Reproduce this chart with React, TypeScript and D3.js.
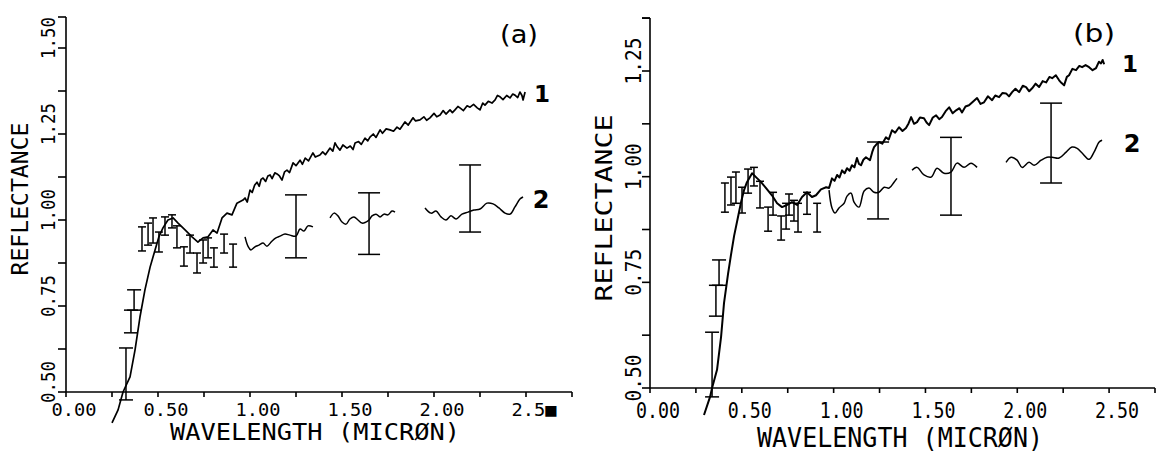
import React from "react";
import * as d3 from "d3";

// ---------- DATA ----------
type P = [number, number];
type Bar = [number, number, number]; // wavelength, top reflectance, bottom reflectance

const xTickValues = [0, 0.5, 1, 1.5, 2, 2.5];
const xMinorTicks = [0.25, 0.75, 1.25, 1.75, 2.25, 2.75];
const xTickLabelsA = ["0.00", "0.50", "1.00", "1.50", "2.00", "2.5■"];
const xTickLabelsB = ["0.00", "0.50", "1.00", "1.50", "2.00", "2.50"];
const yTickValuesA = [0.5, 0.75, 1.0, 1.25, 1.5];
const yTickLabelsA = ["0.50", "0.75", "1.00", "1.25", "1.50"];
const yMinorA = [0.625, 0.875, 1.125, 1.375];
const yTickValuesB = [0.5, 0.75, 1.0, 1.25];
const yTickLabelsB = ["0.50", "0.75", "1.00", "1.25"];
const yMinorB = [0.625, 0.875, 1.125, 1.375];

const xTitle = "WAVELENGTH (MICRØN)";
const yTitle = "REFLECTANCE";
const panelLabels = ["(a)", "(b)"];
const seriesLabels = ["1", "2"];

// Panel (a) curve 1
const curve1A: P[] = [
  [0.25, 0.41], [0.283, 0.448], [0.31, 0.5], [0.348, 0.544], [0.375, 0.622], [0.402, 0.718],
  [0.429, 0.797], [0.457, 0.863], [0.484, 0.913], [0.505, 0.951], [0.527, 0.977], [0.554, 1.0],
  [0.582, 1.006], [0.609, 0.991], [0.647, 0.971], [0.685, 0.951], [0.717, 0.936], [0.745, 0.948],
  [0.772, 0.951], [0.799, 0.971], [0.821, 0.962], [0.848, 1.006], [0.875, 1.02], [0.902, 1.015],
  [0.929, 1.049], [0.962, 1.058], [0.973, 1.064], [0.985, 1.052], [1.0, 1.087], [1.012, 1.08],
  [1.025, 1.101], [1.038, 1.11], [1.05, 1.098], [1.06, 1.118], [1.071, 1.122], [1.085, 1.112],
  [1.097, 1.128], [1.109, 1.131], [1.12, 1.12], [1.135, 1.137], [1.147, 1.134], [1.16, 1.128],
  [1.174, 1.116], [1.188, 1.14], [1.201, 1.145], [1.215, 1.138], [1.234, 1.166], [1.25, 1.158],
  [1.272, 1.174], [1.285, 1.162], [1.3, 1.18], [1.318, 1.172], [1.342, 1.195], [1.355, 1.183],
  [1.38, 1.189], [1.395, 1.198], [1.41, 1.19], [1.435, 1.209], [1.45, 1.2], [1.462, 1.224],
  [1.475, 1.212], [1.489, 1.203], [1.505, 1.218], [1.527, 1.209], [1.545, 1.215], [1.56, 1.205],
  [1.571, 1.224], [1.59, 1.228], [1.605, 1.22], [1.625, 1.238], [1.64, 1.23], [1.652, 1.241],
  [1.67, 1.25], [1.685, 1.24], [1.707, 1.262], [1.72, 1.252], [1.74, 1.265], [1.761, 1.262],
  [1.78, 1.258], [1.799, 1.27], [1.815, 1.264], [1.842, 1.285], [1.86, 1.276], [1.886, 1.297],
  [1.9, 1.288], [1.924, 1.291], [1.945, 1.3], [1.96, 1.29], [1.978, 1.297], [2.0, 1.31],
  [2.015, 1.3], [2.033, 1.305], [2.05, 1.318], [2.065, 1.308], [2.087, 1.32], [2.1, 1.312],
  [2.114, 1.32], [2.13, 1.33], [2.141, 1.326], [2.16, 1.318], [2.18, 1.332], [2.196, 1.328],
  [2.215, 1.336], [2.235, 1.326], [2.25, 1.32], [2.265, 1.34], [2.277, 1.334], [2.295, 1.345],
  [2.315, 1.34], [2.332, 1.349], [2.345, 1.362], [2.359, 1.358], [2.375, 1.35], [2.395, 1.362],
  [2.413, 1.355], [2.428, 1.366], [2.44, 1.363], [2.455, 1.356], [2.467, 1.372], [2.478, 1.362],
  [2.484, 1.349], [2.495, 1.372],
];

// Panel (a) curve 2 segments
const curve2ASeg1: P[] = [
  [0.973, 0.951], [0.989, 0.924], [1.005, 0.913], [1.027, 0.922], [1.049, 0.927], [1.071, 0.933],
  [1.092, 0.924], [1.12, 0.939], [1.141, 0.948], [1.163, 0.953], [1.19, 0.959], [1.217, 0.956],
  [1.25, 0.953], [1.272, 0.974], [1.293, 0.968], [1.315, 0.983], [1.342, 0.98],
];
const curve2ASeg2: P[] = [
  [1.435, 1.006], [1.457, 1.02], [1.478, 1.012], [1.5, 0.994], [1.522, 0.988], [1.543, 1.003],
  [1.565, 1.009], [1.587, 1.0], [1.609, 0.991], [1.63, 0.994], [1.647, 1.0], [1.663, 1.012],
  [1.685, 1.017], [1.707, 1.009], [1.728, 1.017], [1.75, 1.015], [1.772, 1.026], [1.788, 1.023],
];
const curve2ASeg3: P[] = [
  [1.951, 1.035], [1.984, 1.02], [2.011, 1.026], [2.038, 1.009], [2.065, 1.0], [2.092, 1.012],
  [2.12, 1.003], [2.152, 1.017], [2.185, 1.023], [2.217, 1.029], [2.25, 1.032], [2.288, 1.049],
  [2.321, 1.047], [2.353, 1.035], [2.386, 1.02], [2.413, 1.017], [2.44, 1.038], [2.467, 1.061],
  [2.484, 1.067],
];

// Panel (a) error bars of curve 2
const lowBarsA: Bar[] = [
  [0.37, 0.797, 0.738], [0.353, 0.738, 0.672], [0.326, 0.628, 0.477],
];
const smallBarsA: Bar[] = [
  [0.413, 0.98, 0.91], [0.446, 0.991, 0.927], [0.473, 1.006, 0.933], [0.505, 0.965, 0.907],
  [0.538, 1.009, 0.956], [0.576, 1.015, 0.977], [0.603, 0.983, 0.919], [0.641, 0.922, 0.866],
  [0.674, 0.956, 0.904], [0.712, 0.904, 0.846], [0.745, 0.942, 0.875], [0.772, 0.948, 0.89],
  [0.804, 0.919, 0.863], [0.859, 0.959, 0.904], [0.908, 0.93, 0.863],
];
const bigBarsA: Bar[] = [
  [1.25, 1.073, 0.89], [1.647, 1.079, 0.9], [2.196, 1.16, 0.965],
];

// Panel (b) curve 1
const curve1B: P[] = [
  [0.294, 0.436], [0.327, 0.479], [0.338, 0.5], [0.365, 0.543], [0.387, 0.621], [0.403, 0.701],
  [0.425, 0.77], [0.441, 0.815], [0.458, 0.86], [0.479, 0.904], [0.496, 0.94], [0.512, 0.968],
  [0.528, 0.987], [0.556, 1.008], [0.577, 0.999], [0.605, 0.987], [0.632, 0.973], [0.664, 0.956],
  [0.692, 0.937], [0.719, 0.928], [0.746, 0.933], [0.773, 0.94], [0.801, 0.933], [0.828, 0.952],
  [0.855, 0.963], [0.882, 0.952], [0.904, 0.956], [0.931, 0.97], [0.959, 0.975], [0.975, 0.973],
  [0.991, 0.996], [1.005, 0.99], [1.019, 1.004], [1.032, 0.998], [1.046, 1.015], [1.06, 1.008],
  [1.073, 1.02], [1.087, 1.014], [1.1, 1.027], [1.113, 1.022], [1.127, 1.044], [1.138, 1.03],
  [1.149, 1.027], [1.162, 1.04], [1.176, 1.046], [1.198, 1.039], [1.21, 1.058], [1.22, 1.07],
  [1.232, 1.076], [1.247, 1.082], [1.265, 1.078], [1.285, 1.093], [1.3, 1.088], [1.318, 1.11],
  [1.335, 1.104], [1.356, 1.117], [1.375, 1.108], [1.394, 1.115], [1.408, 1.126], [1.422, 1.141],
  [1.438, 1.125], [1.454, 1.129], [1.47, 1.14], [1.492, 1.138], [1.506, 1.128], [1.52, 1.122],
  [1.54, 1.14], [1.558, 1.145], [1.575, 1.136], [1.59, 1.141], [1.61, 1.155], [1.629, 1.164],
  [1.648, 1.15], [1.667, 1.157], [1.685, 1.162], [1.699, 1.152], [1.718, 1.166], [1.737, 1.169],
  [1.76, 1.178], [1.781, 1.186], [1.8, 1.172], [1.819, 1.176], [1.84, 1.19], [1.863, 1.181],
  [1.88, 1.192], [1.901, 1.188], [1.92, 1.198], [1.939, 1.197], [1.955, 1.19], [1.972, 1.2],
  [1.99, 1.208], [2.01, 1.2], [2.03, 1.215], [2.048, 1.212], [2.065, 1.202], [2.081, 1.209],
  [2.1, 1.22], [2.119, 1.212], [2.138, 1.226], [2.157, 1.223], [2.175, 1.236], [2.19, 1.233],
  [2.21, 1.24], [2.228, 1.228], [2.24, 1.222], [2.255, 1.216], [2.27, 1.236], [2.282, 1.24],
  [2.3, 1.255], [2.32, 1.252], [2.338, 1.262], [2.353, 1.259], [2.372, 1.264], [2.391, 1.259],
  [2.41, 1.252], [2.429, 1.257], [2.445, 1.272], [2.456, 1.268], [2.465, 1.276], [2.473, 1.266],
];

// Panel (b) curve 2 segments
const curve2BSeg1: P[] = [
  [0.975, 0.968], [0.991, 0.926], [1.008, 0.914], [1.029, 0.926], [1.057, 0.937], [1.073, 0.954],
  [1.095, 0.961], [1.111, 0.94], [1.138, 0.928], [1.166, 0.966], [1.193, 0.973], [1.22, 0.963],
  [1.247, 0.963], [1.275, 0.975], [1.302, 0.973], [1.329, 0.987], [1.345, 0.996],
];
const curve2BSeg2: P[] = [
  [1.427, 1.015], [1.454, 1.022], [1.492, 1.004], [1.531, 0.999], [1.563, 1.02], [1.601, 1.008],
  [1.639, 1.011], [1.672, 1.032], [1.71, 1.022], [1.748, 1.032], [1.781, 1.022],
];
const curve2BSeg3: P[] = [
  [1.939, 1.034], [1.966, 1.046], [1.999, 1.039], [2.026, 1.022], [2.064, 1.034], [2.092, 1.027],
  [2.13, 1.039], [2.162, 1.046], [2.19, 1.046], [2.228, 1.044], [2.266, 1.058], [2.298, 1.07],
  [2.326, 1.067], [2.353, 1.056], [2.391, 1.041], [2.418, 1.058], [2.446, 1.082], [2.462, 1.086],
];

const lowBarsB: Bar[] = [
  [0.376, 0.803, 0.743], [0.359, 0.743, 0.67], [0.338, 0.632, 0.479],
];
const smallBarsB: Bar[] = [
  [0.408, 0.985, 0.916], [0.441, 0.999, 0.933], [0.468, 1.011, 0.937], [0.501, 0.975, 0.914],
  [0.534, 1.018, 0.961], [0.566, 1.022, 0.978], [0.599, 0.989, 0.926], [0.643, 0.928, 0.871],
  [0.67, 0.963, 0.909], [0.714, 0.907, 0.85], [0.741, 0.937, 0.876], [0.757, 0.959, 0.909],
  [0.784, 0.944, 0.895], [0.806, 0.937, 0.869], [0.855, 0.963, 0.911], [0.91, 0.937, 0.869],
];
const bigBarsB: Bar[] = [
  [1.242, 1.082, 0.9], [1.639, 1.093, 0.909], [2.184, 1.174, 0.985],
];

// ---------- DRAWING ----------
const MONO = "'DejaVu Sans Mono', 'Liberation Mono', monospace";
const SANS = "'DejaVu Sans', 'Liberation Sans', sans-serif";

type PanelCfg = {
  x0: number; x1: number; y0: number; y1: number; yTop: number;
  yDom: [number, number];
  yTicks: number[]; yLabels: string[]; yMinor: number[];
  xLabels: string[];
  curve1: P[]; segs: P[][]; low: Bar[]; small: Bar[]; big: Bar[];
  label: string;
  t: {
    xtFs: number; xtLen: number; xtBase: number;
    ytFs: number; ytLen: number; ytBase: number;
    xTFs: number; xTLen: number; xTBase: number; xTCx: number;
    yTFs: number; yTLen: number; yTBase: number; yTCy: number;
    pl: [number, number, number, number];
    s1: [number, number]; s2: [number, number];
    sw: number; weight: number;
  };
};

function Panel({ c }: { c: PanelCfg }) {
  const x = d3.scaleLinear().domain([0, 2.75]).range([c.x0, c.x1]);
  const y = d3.scaleLinear().domain(c.yDom).range([c.y0, c.y1]);
  const line = d3.line<P>().x((d) => x(d[0])).y((d) => y(d[1]));
  const smooth = d3.line<P>().x((d) => x(d[0])).y((d) => y(d[1])).curve(d3.curveCatmullRom.alpha(0.5));
  const axX = x(0);
  const bars = (arr: Bar[], cap: number, key: string) =>
    arr.map((b, i) => (
      <g key={key + i} stroke="#000" strokeWidth={1.5}>
        <line x1={x(b[0])} x2={x(b[0])} y1={y(b[1])} y2={y(b[2])} />
        <line x1={x(b[0]) - cap / 2} x2={x(b[0]) + cap / 2} y1={y(b[1])} y2={y(b[1])} />
        <line x1={x(b[0]) - cap / 2} x2={x(b[0]) + cap / 2} y1={y(b[2])} y2={y(b[2])} />
      </g>
    ));
  const t = c.t;
  return (
    <g>
      {/* axes */}
      <g stroke="#000" strokeWidth={1.6} fill="none">
        <line x1={axX} x2={axX} y1={c.yTop} y2={y(c.yDom[0])} />
        <line x1={axX} x2={c.x1} y1={y(c.yDom[0])} y2={y(c.yDom[0])} />
        <line x1={axX - 8} x2={axX} y1={c.yTop} y2={c.yTop} />
        {[...c.yTicks, ...c.yMinor].filter((v) => y(v) >= c.yTop - 1).map((v, i) => (
          <line key={"yt" + i} x1={axX - 8} x2={axX} y1={y(v)} y2={y(v)} />
        ))}
        {[...xTickValues, ...xMinorTicks].map((v, i) => (
          <line key={"xt" + i} x1={x(v)} x2={x(v)} y1={y(c.yDom[0])} y2={y(c.yDom[0]) + 5} />
        ))}
      </g>
      {/* tick labels */}
      <g fontFamily={MONO} fill="#000" fontWeight={t.weight}>
        {xTickValues.map((v, i) => (
          <text key={"xl" + i} x={x(v) + 8} y={t.xtBase} fontSize={t.xtFs} textAnchor="middle"
            textLength={t.xtLen} lengthAdjust="spacingAndGlyphs">{c.xLabels[i]}</text>
        ))}
        {c.yTicks.map((v, i) => (
          <text key={"yl" + i} transform={`translate(${t.ytBase},${y(v) - 10}) rotate(-90)`} fontSize={t.ytFs}
            textAnchor="middle" textLength={t.ytLen} lengthAdjust="spacingAndGlyphs">{c.yLabels[i]}</text>
        ))}
        <text x={t.xTCx} y={t.xTBase} fontSize={t.xTFs} textAnchor="middle" textLength={t.xTLen}
          lengthAdjust="spacingAndGlyphs">{xTitle}</text>
        <text transform={`translate(${t.yTBase},${t.yTCy}) rotate(-90)`} fontSize={t.yTFs} textAnchor="middle"
          textLength={t.yTLen} lengthAdjust="spacingAndGlyphs">{yTitle}</text>
      </g>
      {/* curves */}
      <path d={line(c.curve1) || ""} fill="none" stroke="#000" strokeWidth={t.sw} strokeLinejoin="round" />
      {c.segs.map((s, i) => (
        <path key={"s" + i} d={smooth(s) || ""} fill="none" stroke="#000" strokeWidth={1.5} />
      ))}
      {bars(c.low, 14, "lb")}
      {bars(c.small, 8, "sb")}
      {bars(c.big, 22, "bb")}
      {/* labels */}
      <g fontFamily={SANS} fill="#000">
        <text x={t.pl[0]} y={t.pl[1]} fontSize={t.pl[2]} textAnchor="middle" textLength={t.pl[3]}
          lengthAdjust="spacingAndGlyphs">{c.label}</text>
        <text x={t.s1[0]} y={t.s1[1]} fontSize={23} fontWeight="bold" textAnchor="middle">{seriesLabels[0]}</text>
        <text x={t.s2[0]} y={t.s2[1]} fontSize={24} fontWeight="bold" textAnchor="middle">{seriesLabels[1]}</text>
      </g>
    </g>
  );
}

const panelA: PanelCfg = {
  x0: 66, x1: 572, y0: 392, y1: 48, yTop: 17, yDom: [0.5, 1.5],
  yTicks: yTickValuesA, yLabels: yTickLabelsA, yMinor: yMinorA, xLabels: xTickLabelsA,
  curve1: curve1A, segs: [curve2ASeg1, curve2ASeg2, curve2ASeg3],
  low: lowBarsA, small: smallBarsA, big: bigBarsA, label: panelLabels[0],
  t: {
    xtFs: 18, xtLen: 45, xtBase: 416,
    ytFs: 20, ytLen: 42, ytBase: 55,
    xTFs: 23, xTLen: 290, xTBase: 440, xTCx: 315,
    yTFs: 23, yTLen: 153, yTBase: 28, yTCy: 199,
    pl: [519, 43, 24, 38], s1: [542, 102], s2: [541, 208], sw: 1.7, weight: 400,
  },
};

const panelB: PanelCfg = {
  x0: 650, x1: 1155, y0: 388, y1: 71, yTop: 18, yDom: [0.5, 1.25],
  yTicks: yTickValuesB, yLabels: yTickLabelsB, yMinor: yMinorB, xLabels: xTickLabelsB,
  curve1: curve1B, segs: [curve2BSeg1, curve2BSeg2, curve2BSeg3],
  low: lowBarsB, small: smallBarsB, big: bigBarsB, label: panelLabels[1],
  t: {
    xtFs: 21, xtLen: 44, xtBase: 418,
    ytFs: 21, ytLen: 47, ytBase: 641,
    xTFs: 27, xTLen: 286, xTBase: 447, xTCx: 900,
    yTFs: 23, yTLen: 187, yTBase: 612, yTCy: 208,
    pl: [1094, 42, 24, 42], s1: [1130, 72], s2: [1132, 152], sw: 2, weight: 400,
  },
};

export default function App() {
  return (
    <svg width={1165} height={454} style={{ position: "absolute", left: 0, top: 0, background: "#fff" }}>
      <rect width={1165} height={454} fill="#fff" />
      <Panel c={panelA} />
      <Panel c={panelB} />
    </svg>
  );
}
